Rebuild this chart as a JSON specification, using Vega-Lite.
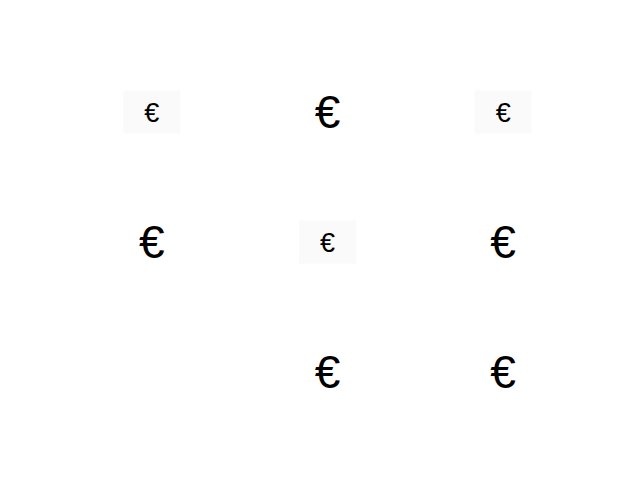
{
  "$schema": "https://vega.github.io/schema/vega-lite/v6.json",
  "autosize": "none",
  "width": 527,
  "height": 390,
  "padding": {"left": 64, "top": 47, "right": 49, "bottom": 43},
  "config": {"view": {"stroke": null}},
  "data": {
    "values": [
      {"col": 1, "row": 1, "symbol": "€", "small": true},
      {"col": 2, "row": 1, "symbol": "€", "small": false},
      {"col": 3, "row": 1, "symbol": "€", "small": true},
      {"col": 1, "row": 2, "symbol": "€", "small": false},
      {"col": 2, "row": 2, "symbol": "€", "small": true},
      {"col": 3, "row": 2, "symbol": "€", "small": false},
      {"col": 2, "row": 3, "symbol": "€", "small": false},
      {"col": 3, "row": 3, "symbol": "€", "small": false}
    ]
  },
  "encoding": {
    "x": {"field": "col", "type": "quantitative", "scale": {"domain": [0.5, 3.5]}, "axis": null},
    "y": {"field": "row", "type": "quantitative", "scale": {"domain": [0.5, 3.5], "reverse": true}, "axis": null}
  },
  "layer": [
    {
      "transform": [{"filter": "datum.small"}],
      "mark": {"type": "rect", "width": 57, "height": 43, "fill": "#fafafa"}
    },
    {
      "transform": [{"filter": "datum.small"}],
      "mark": {"type": "text", "fontSize": 27, "font": "Liberation Sans", "baseline": "middle", "align": "center", "dy": 2, "color": "black"},
      "encoding": {"text": {"field": "symbol"}}
    },
    {
      "transform": [{"filter": "!datum.small"}],
      "mark": {"type": "text", "fontSize": 46, "font": "Liberation Sans", "baseline": "middle", "align": "center", "dy": 2, "color": "black"},
      "encoding": {"text": {"field": "symbol"}}
    }
  ]
}
